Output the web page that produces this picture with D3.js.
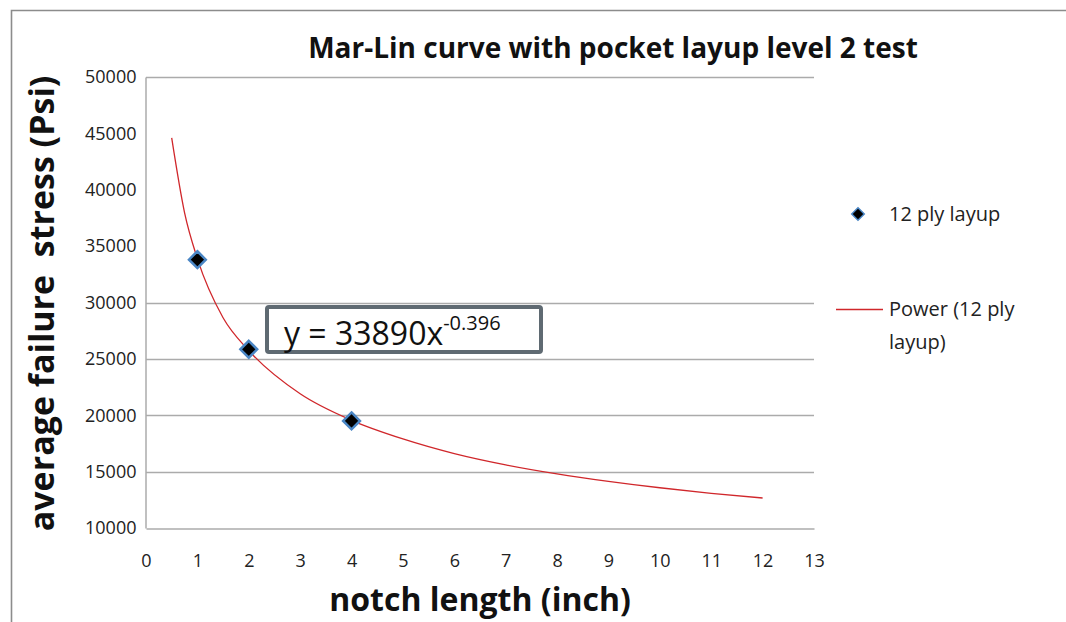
<!DOCTYPE html>
<html>
<head>
<meta charset="utf-8">
<script src="https://cdn.jsdelivr.net/npm/d3@7"></script>
<style>
	body { margin: 0; background: #fff; }
	svg { display: block; font-family: "Open Sans", "Liberation Sans", sans-serif; }
</style>
</head>
<body>
<div id="chart"></div>
<script>
// measured points
var notchLength = [1, 2, 4];
var failureStress = [33800, 25850, 19500];

// power trend line
var trendX = [0.5, 0.75, 1, 1.5, 2, 3, 4, 5, 6, 7, 8, 9, 10, 11, 12];
var trendY = [44600, 37980, 33890, 28650, 25740, 21900, 19550, 17900, 16600, 15600, 14800, 14140, 13570, 13080, 12660];

var xTicks = [0, 1, 2, 3, 4, 5, 6, 7, 8, 9, 10, 11, 12, 13];
var yTicks = [10000, 15000, 20000, 25000, 30000, 35000, 40000, 45000, 50000];
var gridValues = [15000, 20000, 25000, 30000, 50000];

var chartTitle = "Mar-Lin curve with pocket layup level 2 test";
var xTitle = "notch length (inch)";
var yTitle = "average failure\u00a0 stress (Psi)";
var seriesName = "12 ply layup";
var trendName = ["Power (12 ply", "layup)"];

window.onload = function () {
	var W = 1066, H = 622;
	var left = 146, right = 814, top = 77, bottom = 528;

	var svg = d3.select("#chart").append("svg")
		.attr("width", W)
		.attr("height", H);

	// outer chart border (top and left only visible)
	svg.append("path")
		.attr("d", "M11.5," + H + "V10.5H" + W)
		.attr("fill", "none")
		.attr("stroke", "#8c8c8c")
		.attr("stroke-width", 1.6);

	var x = d3.scaleLinear().domain([0, 13]).range([left, right]);
	var y = d3.scaleLinear().domain([10000, 50000]).range([bottom, top]);

	// gridlines
	svg.append("g").selectAll("line").data(gridValues).enter().append("line")
		.attr("x1", left).attr("x2", right)
		.attr("y1", function(d) { return Math.round(y(d)) + 0.5; })
		.attr("y2", function(d) { return Math.round(y(d)) + 0.5; })
		.attr("stroke", "#ababab")
		.attr("stroke-width", 1.5);

	// axes
	var xAxis = svg.append("g")
		.attr("transform", "translate(0," + (bottom + 0.5) + ")")
		.call(d3.axisBottom(x).tickValues(xTicks).tickSize(0).tickPadding(26));
	var yAxis = svg.append("g")
		.attr("transform", "translate(" + (left - 0.5) + ",0)")
		.call(d3.axisLeft(y).tickValues(yTicks).tickFormat(d3.format("d")).tickSize(0).tickPadding(9));
	[xAxis, yAxis].forEach(function(a) {
		a.select(".domain").attr("stroke", "#ababab").attr("stroke-width", 1.5);
		a.selectAll("text")
			.attr("font-family", "'Open Sans', sans-serif")
			.attr("font-size", 18)
			.attr("fill", "#222");
	});

	// trend line
	var line = d3.line()
		.x(function(d) { return x(d[0]); })
		.y(function(d) { return y(d[1]); })
		.curve(d3.curveMonotoneX);
	svg.append("path")
		.datum(d3.zip(trendX, trendY))
		.attr("d", line)
		.attr("fill", "none")
		.attr("stroke", "#d0272b")
		.attr("stroke-width", 1.3);

	// markers
	var diamond = d3.symbol().type(d3.symbolDiamond2).size(180);
	svg.append("g").selectAll("path").data(d3.zip(notchLength, failureStress)).enter().append("path")
		.attr("d", diamond)
		.attr("transform", function(d) { return "translate(" + x(d[0]) + "," + y(d[1]) + ")"; })
		.attr("fill", "#000")
		.attr("stroke", "#4a86c5")
		.attr("stroke-width", 2.5);

	// equation label
	svg.append("rect")
		.attr("x", 267).attr("y", 307)
		.attr("width", 274).attr("height", 45)
		.attr("fill", "#fff")
		.attr("stroke", "#5f6a72")
		.attr("stroke-width", 4)
		.attr("rx", 2);
	var eq = svg.append("text")
		.attr("x", 284).attr("y", 345)
		.attr("font-size", 32)
		.attr("fill", "#111");
	eq.append("tspan").text("y = 33890x");
	eq.append("tspan").attr("dy", -15).attr("font-size", 20).text("-0.396");

	// title
	svg.append("text")
		.attr("x", 613).attr("y", 58)
		.attr("text-anchor", "middle")
		.attr("font-weight", "bold")
		.attr("font-size", 28)
		.attr("fill", "#111")
		.text(chartTitle);

	// axis titles
	svg.append("text")
		.attr("x", 480).attr("y", 611)
		.attr("text-anchor", "middle")
		.attr("font-weight", "bold")
		.attr("font-size", 32)
		.attr("fill", "#111")
		.text(xTitle);
	svg.append("text")
		.attr("transform", "translate(54," + ((top + bottom) / 2 + 1) + ") rotate(-90)")
		.attr("text-anchor", "middle")
		.attr("font-weight", "bold")
		.attr("font-size", 34)
		.attr("fill", "#111")
		.text(yTitle);

	// legend
	var lg = svg.append("g").attr("font-size", 20).attr("fill", "#222");
	lg.append("path")
		.attr("d", d3.symbol().type(d3.symbolDiamond2).size(100))
		.attr("transform", "translate(858,214)")
		.attr("fill", "#000")
		.attr("stroke", "#4a86c5")
		.attr("stroke-width", 1.5);
	lg.append("text").attr("x", 889).attr("y", 221).text(seriesName);
	lg.append("line")
		.attr("x1", 836).attr("x2", 883)
		.attr("y1", 309.5).attr("y2", 309.5)
		.attr("stroke", "#d0272b")
		.attr("stroke-width", 1.5);
	lg.selectAll(".tn").data(trendName).enter().append("text")
		.attr("x", 889)
		.attr("y", function(d, i) { return 316 + i * 33; })
		.text(function(d) { return d; });
};
</script>
</body>
</html>
